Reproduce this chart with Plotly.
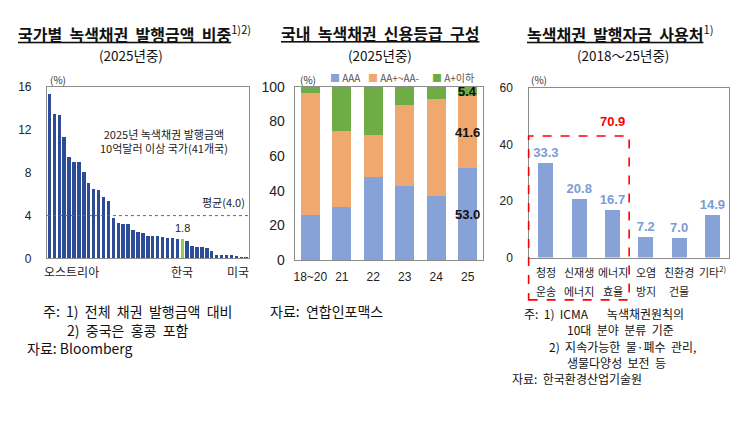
import plotly.graph_objects as go

W, H = 753, 437

# ---------------- data ----------------
# Left: share of green bond issuance by country (%), 41 countries, sorted
country_share = [15.3, 13.5, 13.4, 11.3, 9.5, 9.0, 9.0, 8.1, 7.0, 6.5, 6.4, 5.7, 5.4,
                 3.8, 3.3, 3.2, 3.2, 2.7, 2.5, 2.4, 2.1, 2.1, 2.1, 2.05, 1.95, 1.9,
                 1.85, 1.8, 1.65, 1.2, 1.1, 1.1, 1.0, 0.7, 0.35, 0.3, 0.3, 0.3, 0.25,
                 0.15, 0.08]
korea_index = 27
korea_label = "1.8"
average_share = 4.0
first_country = "오스트리아"
korea_name = "한국"
last_country = "미국"

# Middle: domestic green bond credit rating mix (%)
rating_years = ["18~20", "21", "22", "23", "24", "25"]
rating_aaa = [26.0, 30.4, 48.1, 42.7, 36.7, 53.0]
rating_aa = [70.5, 44.4, 24.3, 46.7, 56.4, 41.6]
rating_a_below = [3.5, 25.2, 27.6, 10.6, 6.9, 5.4]
rating_names = ["AAA", "AA+~AA-", "A+이하"]

# Right: use of proceeds (%)
use_line1 = ["청정", "신재생", "에너지", "오염", "친환경", "기타<sup>2)</sup>"]
use_line2 = ["운송", "에너지", "효율", "방지", "건물", ""]
use_share = [33.3, 20.8, 16.7, 7.2, 7.0, 14.9]
highlight_count = 3
highlight_total = "70.9"

# ---------------- styles ----------------
KR = "Noto Sans CJK KR"
NUM = "Arial, Liberation Sans, Noto Sans CJK KR"
NAVY = "#2C4C9A"
KGREEN = "#92D050"
C_AAA = "#87A2D7"
C_AA = "#EFA86F"
C_A = "#6FAC46"
BLUE_TXT = "#7D9BD3"
FRAME = "#8C8C8C"
SP = "&nbsp;"


def wide(s):
    # Korean typesetting in the reference uses wide word spacing
    return s.replace(" ", " " + SP)


def px(x):
    return x / W


def py(y):
    return 1 - y / H


# domains
dL = [px(46), px(248)]
dM = [px(294), px(483)]
dR = [px(529), px(729)]
yL = [py(260), py(82)]
yM = [py(261.5), py(82)]
yR = [py(259), py(83)]

fig = go.Figure()

# Left chart bars
n = len(country_share)
fig.add_trace(go.Bar(
    x=list(range(n)), y=country_share, width=0.7,
    marker=dict(color=[KGREEN if i == korea_index else NAVY for i in range(n)], line_width=0),
    xaxis="x", yaxis="y", showlegend=False, hoverinfo="skip"))

# Middle stacked bars (numeric positions, labelled with rating_years)
m = len(rating_years)
for vals, col in zip([rating_aaa, rating_aa, rating_a_below], [C_AAA, C_AA, C_A]):
    fig.add_trace(go.Bar(x=list(range(m)), y=vals, marker=dict(color=col, line_width=0),
                         width=0.6, xaxis="x2", yaxis="y2", showlegend=False,
                         hoverinfo="skip"))

# Right bars
k = len(use_share)
fig.add_trace(go.Bar(
    x=list(range(k)), y=use_share, width=0.45,
    marker=dict(color=C_AAA, line_width=0),
    text=[f"{v:.1f}" for v in use_share], texttemplate="<b>%{text}</b>",
    textposition="outside", constraintext="none", textangle=0,
    textfont=dict(family=NUM, size=13, color=BLUE_TXT), cliponaxis=False,
    xaxis="x3", yaxis="y3", showlegend=False, hoverinfo="skip"))

ax_common = dict(showline=True, mirror=True, linecolor=FRAME, linewidth=1,
                 showgrid=False, zeroline=False, ticks="")

fig.update_layout(
    width=W, height=H, margin=dict(l=0, r=0, t=0, b=0), autosize=False,
    paper_bgcolor="white", plot_bgcolor="white", barmode="stack",
    xaxis=dict(domain=dL, range=[-0.5, n - 0.5], showticklabels=False, anchor="y", **ax_common),
    yaxis=dict(domain=yL, range=[0, 16], tickvals=[0, 4, 8, 12, 16], anchor="x",
               tickfont=dict(family=NUM, size=12, color="#222"), ticklabelstandoff=12, **ax_common),
    xaxis2=dict(domain=dM, range=[-0.5, m - 0.5], tickvals=list(range(m)), ticktext=rating_years,
                anchor="y2", tickangle=0,
                tickfont=dict(family=NUM, size=12, color="#222"), ticklabelstandoff=6, **ax_common),
    yaxis2=dict(domain=yM, range=[0, 100], tickvals=[0, 20, 40, 60, 80, 100], anchor="x2",
                tickfont=dict(family=NUM, size=14, color="#222"), ticklabelstandoff=6, **ax_common),
    xaxis3=dict(domain=dR, range=[-0.5, k - 0.5], showticklabels=False, anchor="y3",
                **ax_common),
    yaxis3=dict(domain=yR, range=[0, 60], tickvals=[0, 20, 40, 60], anchor="x3",
                tickfont=dict(family=NUM, size=12, color="#222"), ticklabelstandoff=13, **ax_common),
)

ann = []


def text(x, y, s, size=13, color="#111", family=KR, xanchor="center", yanchor="middle", **kw):
    ann.append(dict(x=x, y=y, xref="paper", yref="paper", text=s, showarrow=False,
                    xanchor=xanchor, yanchor=yanchor,
                    font=dict(family=family, size=size, color=color), **kw))


# Titles
text(px(134), py(26), "<b><u>" + wide("국가별 녹색채권 발행금액 비중") + "</u></b><sup>1)2)</sup>", size=16)
text(px(130), py(49), "(2025년중)", size=13.5)
text(px(380), py(26), "<b><u>" + wide("국내 녹색채권 신용등급 구성") + "</u></b>", size=16)
text(px(380), py(49), "(2025년중)", size=13.5)
text(px(620), py(26), "<b><u>" + wide("녹색채권 발행자금 사용처") + "</u></b><sup>1)</sup>", size=16)
text(px(623), py(49), "(2018～25년중)", size=13.5)

# (%) units
text(px(47), py(74), "(%)", size=10, color="#333", xanchor="left")
text(px(297), py(74), "(%)", size=10, color="#333", xanchor="left")
text(px(529), py(74), "(%)", size=10, color="#333", xanchor="left")

# Left chart extras
fig.add_shape(type="line", xref="x domain", yref="y", x0=0, x1=1, y0=average_share,
              y1=average_share, line=dict(color="#666", width=1, dash="dot"))
ann.append(dict(x=1, y=average_share, xref="x domain", yref="y", text=f"평균({average_share:.1f})",
                showarrow=False, xanchor="right", yanchor="bottom", yshift=4, xshift=-2,
                font=dict(family=KR, size=11, color="#222")))
ann.append(dict(x=0.58, y=11.0, xref="x domain", yref="y",
                text="2025년 녹색채권 발행금액<br>10억달러 이상 국가(41개국)",
                showarrow=False, font=dict(family=KR, size=11, color="#222")))
ann.append(dict(x=korea_index, y=country_share[korea_index], xref="x", yref="y", text=korea_label,
                showarrow=False, yanchor="bottom", yshift=3,
                font=dict(family=NUM, size=11, color="#222")))
for idx, name, anchor, shift in [(0, first_country, "left", -7), (korea_index, korea_name, "center", 0),
                                 (n - 1, last_country, "right", 5)]:
    ann.append(dict(x=idx, y=yL[0], xref="x", yref="paper", text=name, showarrow=False,
                    xanchor=anchor, yanchor="middle", yshift=-13, xshift=shift,
                    font=dict(family=KR, size=12, color="#222")))

# Middle chart legend
leg_x = [327, 365, 430]
for lx, name, col in zip(leg_x, rating_names, [C_AAA, C_AA, C_A]):
    text(px(lx), py(72), f"<span style='color:{col}'>■</span> {name}", size=10, color="#555",
         xanchor="left")

# Middle chart labels for last year
last = m - 1
segs = [rating_aaa[last], rating_aa[last], rating_a_below[last]]
base = 0
for v in segs:
    ann.append(dict(x=last, y=base + v / 2, xref="x2", yref="y2", text=f"<b>{v:.1f}</b>",
                    showarrow=False, font=dict(family=NUM, size=13, color="#111")))
    base += v

# Right chart category labels
for i, (l1, l2) in enumerate(zip(use_line1, use_line2)):
    ann.append(dict(x=i, y=yR[0], xref="x3", yref="paper", text=l1, showarrow=False,
                    yanchor="middle", yshift=-14, font=dict(family=KR, size=11, color="#222")))
    if l2:
        ann.append(dict(x=i, y=yR[0], xref="x3", yref="paper", text=l2, showarrow=False,
                        yanchor="middle", yshift=-33, font=dict(family=KR, size=11, color="#222")))

# Red dashed highlight box (computed from right axis domain/range)
r0, r1 = -0.5, k - 0.5


def xr_paper(v):
    return dR[0] + (v - r0) / (r1 - r0) * (dR[1] - dR[0])


def yr_paper(v):
    return yR[0] + v / 60 * (yR[1] - yR[0])


box_top = 43
fig.add_shape(type="rect", xref="paper", yref="paper",
              x0=xr_paper(-0.52), x1=xr_paper(highlight_count - 0.5),
              y0=py(303), y1=yr_paper(box_top),
              line=dict(color="#FF0000", width=1.6, dash="dash"), fillcolor="rgba(0,0,0,0)")
ann.append(dict(x=highlight_count - 1, y=box_top, xref="x3", yref="y3", text=f"<b>{highlight_total}</b>",
                showarrow=False, yanchor="bottom", yshift=5,
                font=dict(family=NUM, size=13, color="#FF0000")))

# Notes
text(px(40), py(315), wide("주: 1) 전체 채권 발행금액 대비"), size=14, xanchor="left")
text(px(64), py(334), wide("2) 중국은 홍콩 포함"), size=14, xanchor="left")
text(px(24), py(353), "자료: Bloomberg", size=14, xanchor="left")
text(px(267), py(315), wide("자료: 연합인포맥스"), size=14, xanchor="left")

text(px(522), py(317), wide("주: 1) ICMA") + SP * 7 + "녹색채권원칙의", size=12, xanchor="left")
text(px(565), py(334), wide("10대 분야 분류 기준"), size=12, xanchor="left")
text(px(547), py(351), wide("2) 지속가능한 물·폐수 관리,"), size=12, xanchor="left")
text(px(565), py(368), wide("생물다양성 보전 등"), size=12, xanchor="left")
text(px(510), py(385), wide("자료: 한국환경산업기술원"), size=12, xanchor="left")

fig.update_layout(annotations=ann)
fig.write_html("out.html")
